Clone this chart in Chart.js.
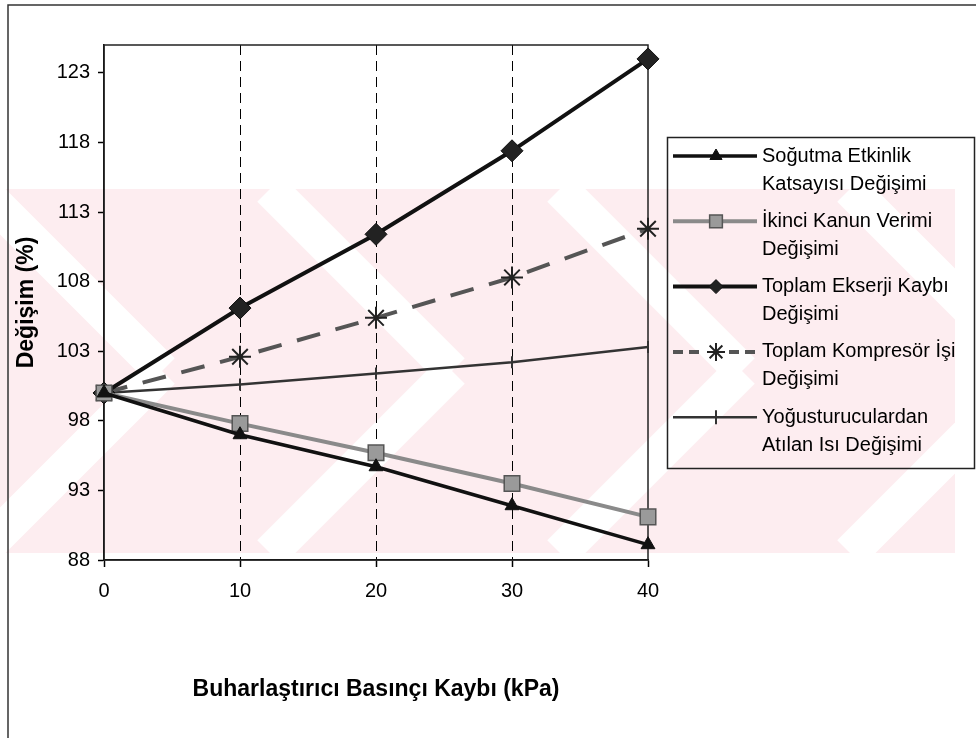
<!DOCTYPE html>
<html><head><meta charset="utf-8">
<script src="https://cdn.jsdelivr.net/npm/chart.js@4/dist/chart.umd.min.js"></script>
<style>html,body{margin:0;padding:0;background:#fff}canvas{display:block}</style>
</head><body>
<canvas id="c" width="976" height="738"></canvas>
<script>
// ---- data ----
const pressureLoss = [0, 10, 20, 30, 40];
const xTicks = [0, 10, 20, 30, 40];
const yTicks = [88, 93, 98, 103, 108, 113, 118, 123];
const copChange = [100, 97.0, 94.7, 91.9, 89.1];
const secondLawChange = [100, 97.8, 95.7, 93.5, 91.1];
const exergyLossChange = [100, 106.1, 111.4, 117.4, 124.0];
const compressorWorkChange = [100, 102.6, 105.4, 108.3, 111.8];
const condenserHeatChange = [100, 100.6, 101.4, 102.2, 103.3];
const seriesLabels = [
  ['Soğutma Etkinlik', 'Katsayısı Değişimi'],
  ['İkinci Kanun Verimi', 'Değişimi'],
  ['Toplam Ekserji Kaybı', 'Değişimi'],
  ['Toplam Kompresör İşi', 'Değişimi'],
  ['Yoğusturuculardan', 'Atılan Isı Değişimi']
];
const xTitle = 'Buharlaştırıcı Basınçı Kaybı (kPa)';
const yTitle = 'Değişim (%)';

const FONT = "'Liberation Sans', Arial, sans-serif";
const pts = arr => pressureLoss.map((x, i) => ({x: x, y: arr[i]}));

const datasets = [
  {label: seriesLabels[0].join(' '), data: pts(copChange), borderColor: '#111', borderWidth: 3.5,
   pointStyle: 'triangle', pointRadius: 8, pointBackgroundColor: '#111', pointBorderColor: '#111', pointBorderWidth: 1,
   legendRadius: 7},
  {label: seriesLabels[1].join(' '), data: pts(secondLawChange), borderColor: '#8a8a8a', borderWidth: 4,
   pointStyle: 'rect', pointRadius: 11, pointBackgroundColor: '#9a9a9a', pointBorderColor: '#555', pointBorderWidth: 1.5,
   legendRadius: 9},
  {label: seriesLabels[2].join(' '), data: pts(exergyLossChange), borderColor: '#111', borderWidth: 4,
   pointStyle: 'rectRot', pointRadius: 11, pointBackgroundColor: '#222', pointBorderColor: '#111', pointBorderWidth: 1,
   legendRadius: 7},
  {label: seriesLabels[3].join(' '), data: pts(compressorWorkChange), borderColor: '#555', borderWidth: 4, borderDash: [24, 16],
   pointStyle: 'star', pointRadius: 11, pointBackgroundColor: '#222', pointBorderColor: '#222', pointBorderWidth: 2,
   legendRadius: 9},
  {label: seriesLabels[4].join(' '), data: pts(condenserHeatChange), borderColor: '#333', borderWidth: 2.5,
   pointStyle: 'line', pointRotation: 90, pointRadius: 6, pointBackgroundColor: '#333', pointBorderColor: '#333', pointBorderWidth: 2,
   legendRadius: 7}
];
datasets.forEach(d => { d.fill = false; d.tension = 0; d.clip = false; });

const watermark = {
  id: 'watermark',
  beforeDraw(chart) {
    const ctx = chart.ctx, top = 189, bot = 553, W = chart.width;
    ctx.save();
    ctx.fillStyle = '#fff';
    ctx.fillRect(0, 0, W, chart.height);
    ctx.beginPath(); ctx.rect(0, top, 955, bot - top); ctx.clip();
    ctx.fillStyle = '#fdedf0';
    ctx.fillRect(0, top, W, bot - top);
    ctx.strokeStyle = '#fff';
    ctx.lineWidth = 36;
    const mid = (top + bot) / 2, h = (bot - top) / 2, period = 290;
    for (let x0 = -600; x0 < W + 600; x0 += period) {
      ctx.beginPath(); ctx.moveTo(x0, top); ctx.lineTo(x0 + h, mid); ctx.stroke();
      ctx.beginPath(); ctx.moveTo(x0 + h, mid); ctx.lineTo(x0, bot); ctx.stroke();
    }
    ctx.restore();
    // outer figure border (top & left)
    ctx.save();
    ctx.strokeStyle = '#333'; ctx.lineWidth = 1.5;
    ctx.beginPath(); ctx.moveTo(8, 738); ctx.lineTo(8, 5); ctx.lineTo(976, 5); ctx.stroke();
    ctx.restore();
  }
};

const frame = {
  id: 'frame',
  beforeDatasetsDraw(chart) {
    const a = chart.chartArea, ctx = chart.ctx;
    ctx.save();
    ctx.strokeStyle = '#222'; ctx.lineWidth = 1.5;
    ctx.strokeRect(a.left, a.top, a.right - a.left, a.bottom - a.top);
    ctx.restore();
  }
};

const customLegend = {
  id: 'customLegend',
  afterDraw(chart) {
    const ctx = chart.ctx;
    const bx = 667, by = 137, bw = 307, bh = 331;
    ctx.save();
    ctx.strokeStyle = '#222'; ctx.lineWidth = 1.5;
    ctx.strokeRect(bx + 0.5, by + 0.5, bw, bh);
    const y0 = 156, step = 65.3, lineGap = 28;
    chart.data.datasets.forEach((d, i) => {
      const y = y0 + i * step;
      ctx.save();
      ctx.strokeStyle = d.borderColor; ctx.lineWidth = d.borderWidth;
      ctx.setLineDash(d.borderDash ? [10, 6] : []);
      ctx.beginPath();
      if (d.borderDash) {
        ctx.moveTo(673, y); ctx.lineTo(703, y); ctx.moveTo(729, y); ctx.lineTo(757, y);
      } else {
        ctx.moveTo(673, y); ctx.lineTo(757, y);
      }
      ctx.stroke();
      ctx.setLineDash([]);
      ctx.fillStyle = d.pointBackgroundColor; ctx.strokeStyle = d.pointBorderColor; ctx.lineWidth = d.pointBorderWidth;
      Chart.helpers.drawPoint(ctx, {pointStyle: d.pointStyle, radius: d.legendRadius, rotation: d.pointRotation || 0, borderWidth: d.pointBorderWidth}, 716, y);
      ctx.restore();
      ctx.fillStyle = '#000';
      ctx.font = '20px ' + FONT;
      ctx.textBaseline = 'middle'; ctx.textAlign = 'left';
      seriesLabels[i].forEach((t, k) => ctx.fillText(t, 762, y + k * lineGap));
    });
    ctx.restore();
  }
};

new Chart(document.getElementById('c'), {
  type: 'line',
  data: {datasets: datasets},
  options: {
    responsive: false,
    animation: false,
    events: [],
    layout: {padding: {top: 45, right: 328, bottom: 0, left: 0}},
    plugins: {legend: {display: false}, tooltip: {enabled: false}},
    scales: {
      x: {
        type: 'linear', min: 0, max: 40,
        afterBuildTicks: a => { a.ticks = xTicks.map(v => ({value: v})); },
        afterFit: s => { s.height = 178; },
        grid: {
          color: c => (c.tick && (c.tick.value === 0 || c.tick.value === 40)) ? 'rgba(0,0,0,0)' : '#000',
          lineWidth: 1, tickLength: 7, tickColor: '#000', tickWidth: 1.5
        },
        border: {display: true, color: '#000', width: 1.5, dash: [10, 6]},
        ticks: {color: '#000', font: {family: FONT, size: 20}, padding: 12, maxRotation: 0},
        title: {display: true, text: xTitle, color: '#000', font: {family: FONT, size: 23, weight: 'bold'}, padding: {top: 0, bottom: 35}}
      },
      y: {
        min: 88, max: 125,
        afterBuildTicks: a => { a.ticks = yTicks.map(v => ({value: v})); },
        afterFit: s => { s.width = 104; },
        grid: {drawOnChartArea: false, tickLength: 6, color: '#000', tickWidth: 1.5},
        border: {display: true, color: '#000', width: 1.5},
        ticks: {color: '#000', font: {family: FONT, size: 20}, padding: 8},
        title: {display: true, text: yTitle, color: '#000', font: {family: FONT, size: 23, weight: 'bold'}, padding: {top: 13, bottom: 0}}
      }
    }
  },
  plugins: [watermark, frame, customLegend]
});
</script>
</body></html>
